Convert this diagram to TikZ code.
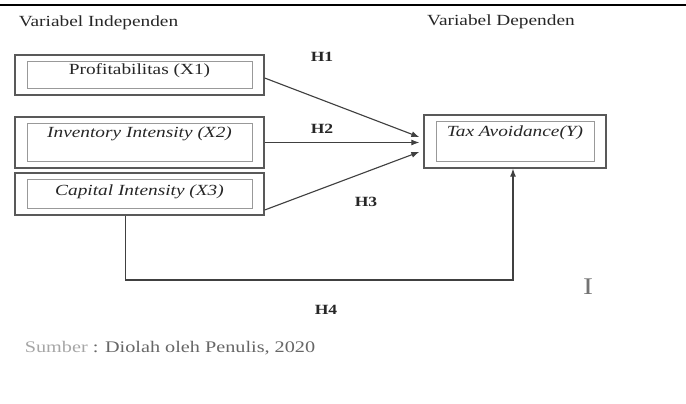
\documentclass[tikz,border=0pt]{standalone}
\usepackage{fontspec}
\setmainfont{Liberation Serif}[FakeStretch=1.25]
\usetikzlibrary{arrows.meta}

\begin{document}
\begin{tikzpicture}[x=0.025cm, y=-0.025cm, font=\fontsize{11}{13}\selectfont, text=black!85,
  box/.style = {draw=black!65, line width=0.9pt, minimum width=6.225cm, text height=0.3cm,
    path picture={\draw[black!40, line width=0.5pt] ([xshift=0.3cm,yshift=-0.16cm]path picture bounding box.north west) rectangle ([xshift=-0.3cm,yshift=0.16cm]path picture bounding box.south east);}},
  hyp/.style = {font=\fontsize{10}{12}\selectfont\bfseries},
  arr/.style = {draw=black!75, line width=0.8pt, -{Latex[length=2mm,width=1.5mm]}}]
  \useasboundingbox (0,0) rectangle (686,403);
  \draw[line width=1.5pt] (0,5) -- (686,5);
  % titles
  \node (vi) at (98.5,23) {Variabel Independen};
  \node (vd) at (501,22) {Variabel Dependen};
  % variables
  \node[box, minimum height=1cm, text depth=0.31cm] (x1) at (139.5,75) {Profitabilitas (X1)};
  \node[box, minimum height=1.275cm, text depth=0.535cm] (x2) at (139.5,142.5) {\textit{Inventory Intensity (X2)}};
  \node[box, minimum height=1.05cm, text depth=0.21cm] (x3) at (139.5,194) {\textit{Capital Intensity (X3)}};
  \node[box, minimum width=4.55cm, minimum height=1.325cm, text depth=0.535cm] (y) at (515,141.5) {\textit{Tax Avoidance(Y)}};
  % hypotheses
  \node[hyp] (h1) at (322,57) {H1};
  \node[hyp] (h2) at (322,129) {H2};
  \node[hyp] (h3) at (366,202) {H3};
  \node[hyp] (h4) at (326,310) {H4};
  \coordinate (c4) at (513,280);
  \draw[arr] ([yshift=-0.075cm]x1.east) -- ([xshift=-0.1cm,yshift=0.11cm]y.west);
  \draw[arr] (x2.east) -- ([xshift=-0.1cm]x2.east -| y.west);
  \draw[arr] ([yshift=-0.4cm]x3.east) -- ([xshift=-0.1cm,yshift=-0.26cm]y.west);
  \draw[arr] ([xshift=-0.34cm]x3.south) |- (c4) -- (c4 |- y.south);
  \node[text=black!60, font=\fontsize{11.5}{13}\selectfont] (src) at (170,348) {\textcolor{black!35}{Sumber} : Diolah oleh Penulis, 2020};
  \node[text=black!55, font=\fontsize{17}{17}\selectfont] (cur) at (588,287) {I};
\end{tikzpicture}
\end{document}
